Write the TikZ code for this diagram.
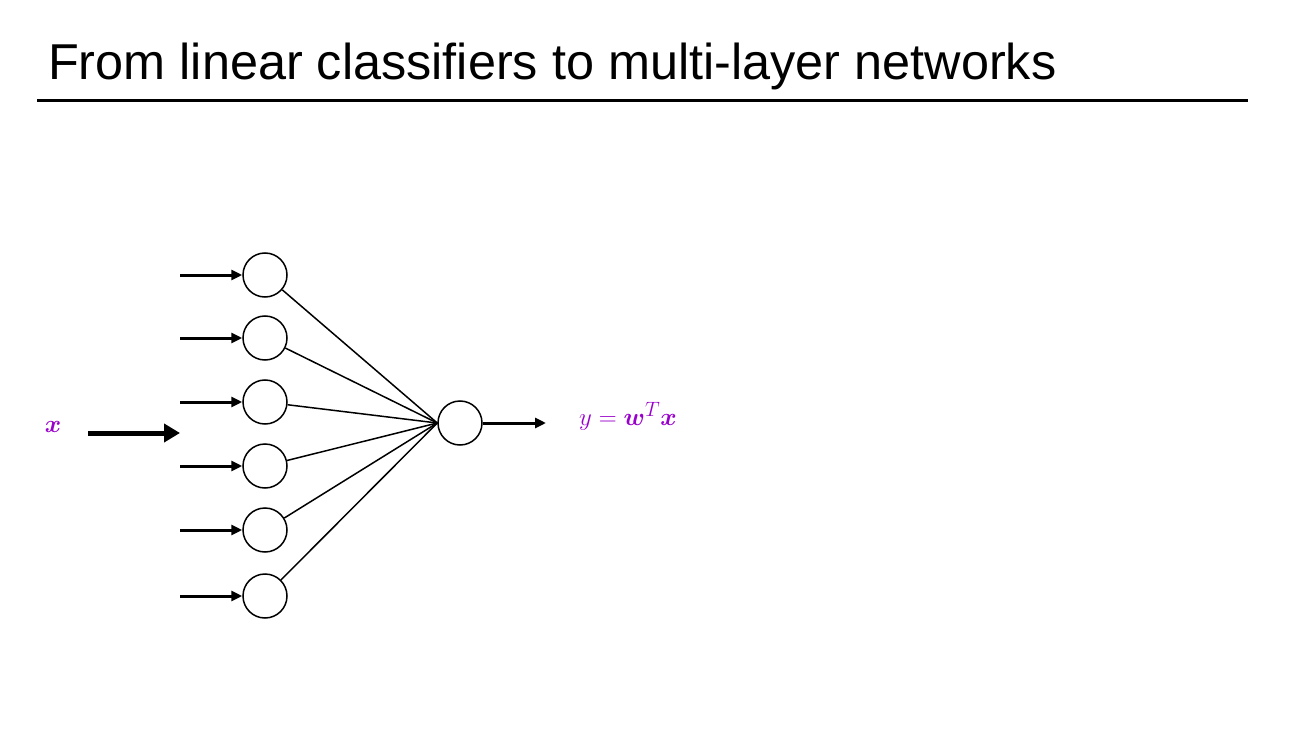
\documentclass[tikz,border=0pt]{standalone}
\usepackage{amsmath}
\usepackage{amssymb}
\usepackage{fontspec}
\setmainfont{Liberation Sans}
\usetikzlibrary{positioning,arrows.meta}
\definecolor{lblpurple}{RGB}{153,0,204}

\begin{document}
\begin{tikzpicture}
  [x=1pt,y=-1pt,
   unit/.style={circle,draw,line width=1.5pt,minimum size=44pt,inner sep=0pt},
   feed/.style={line width=3pt,-{Triangle[length=11pt,width=10pt]}},
   lbl/.style={text=lblpurple,font=\fontsize{29}{35}\selectfont,inner sep=0pt}]
  \useasboundingbox (0,0) rectangle (1304,730);
  \node[anchor=base west,inner sep=0pt,font=\fontsize{50.4}{60}\selectfont] (title) at (48,80) {From linear classifiers to multi-layer networks};
  \draw[line width=3pt] (37,101) -- (1248,101);

  \foreach \n/\y in {1/275,2/338,3/402,4/466,5/530,6/596} {
    \node[unit] (i\n) at (265,\y) {};
    \coordinate (s\n) at (180,\y);
    \draw[feed] (s\n) -- (i\n);
  }
  \node[unit] (out) at (460,423) {};
  \foreach \n in {1,...,6}
    \draw[line width=1.5pt] (i\n) -- (out.west);

  \coordinate (xs) at (88,433);
  \coordinate (xe) at (180,433);
  \draw[line width=5pt,-{Triangle[length=16pt,width=18pt]}] (xs) -- (xe);
  \node[lbl] (xlab) at (53,427) {$\boldsymbol{x}$};

  \coordinate (oe) at (546,423);
  \draw[feed] (out) -- (oe);
  \node[lbl,anchor=west] (ylab) at (579,416) {$y=\boldsymbol{w}^T\boldsymbol{x}$};
\end{tikzpicture}
\end{document}
